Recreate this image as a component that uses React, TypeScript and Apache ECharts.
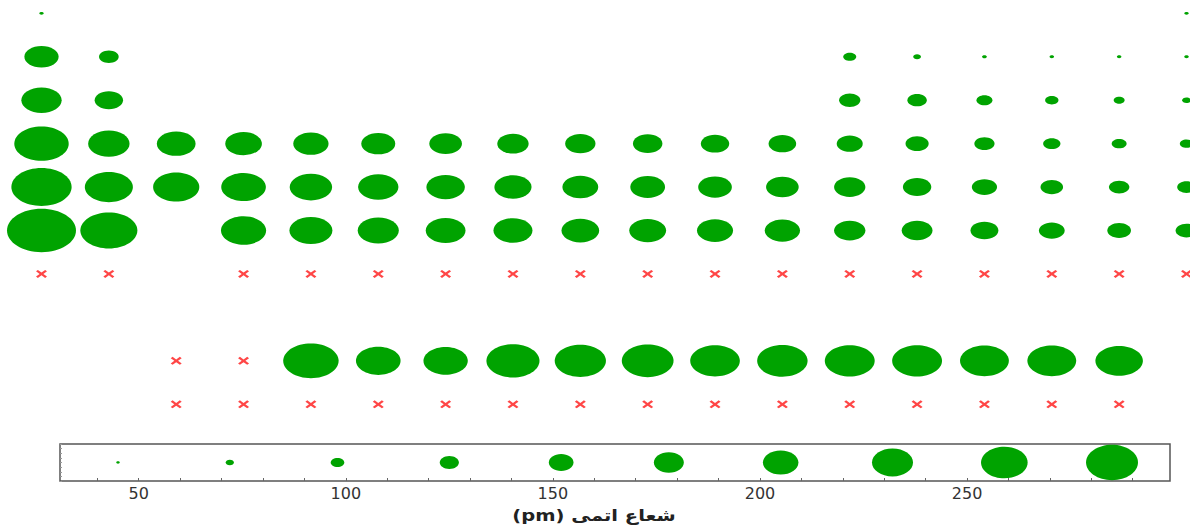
import React, { useEffect, useRef } from "react";
import * as echarts from "echarts";

// Periodic-table columns (groups) and row indexes
const groups = [1, 2, 3, 4, 5, 6, 7, 8, 9, 10, 11, 12, 13, 14, 15, 16, 17, 18];
const periods = [1, 2, 3, 4, 5, 6, 7];
// Atomic radius (pm); null = empty cell, 0 = no data (cross)
const radiiP1 = [53, null, null, null, null, null, null, null, null, null, null, null, null, null, null, null, null, 31];
const radiiP2 = [167, 112, null, null, null, null, null, null, null, null, null, null, 87, 67, 56, 48, 42, 38];
const radiiP3 = [190, 145, null, null, null, null, null, null, null, null, null, null, 118, 111, 98, 88, 79, 71];
const radiiP4 = [243, 194, 184, 176, 171, 166, 161, 156, 152, 149, 145, 142, 136, 125, 114, 103, 94, 88];
const radiiP5 = [265, 219, 212, 206, 198, 190, 183, 178, 173, 169, 165, 161, 156, 145, 133, 123, 115, 108];
const radiiP6 = [298, 253, null, 208, 200, 193, 188, 185, 180, 177, 174, 171, 156, 154, 143, 135, 127, 120];
const radiiP7 = [0, 0, null, 0, 0, 0, 0, 0, 0, 0, 0, 0, 0, 0, 0, 0, 0, 0];

// f-block rows
const fBlockCols = [3, 4, 5, 6, 7, 8, 9, 10, 11, 12, 13, 14, 15, 16, 17];
const lanthanideRow = 9;
const actinideRow = 10;
const lanthanideRadii = [0, 0, 247, 206, 205, 238, 231, 233, 225, 228, 226, 226, 222, 222, 217];
const actinideRadii = [0, 0, 0, 0, 0, 0, 0, 0, 0, 0, 0, 0, 0, 0, 0];

// Size legend
const legendRadii = [45, 72, 98, 125, 152, 178, 205, 232, 259, 285];
const legendTickValues = [40, 50, 60, 70, 80, 90, 100, 110, 120, 130, 140, 150, 160, 170, 180, 190, 200, 210, 220, 230, 240, 250, 260, 270, 280, 290];
const legendLabelValues = [50, 100, 150, 200, 250];
const axisTitle = "(pm) شعاع اتمی";

const ELLIPSE =
  "path://M50,0C77.6,0,100,22.4,100,50C100,77.6,77.6,100,50,100C22.4,100,0,77.6,0,50C0,22.4,22.4,0,50,0Z";
const CROSS =
  "path://M0,1.7L1.7,0L5,3.3L8.3,0L10,1.7L6.7,5L10,8.3L8.3,10L5,6.7L1.7,10L0,8.3L3.3,5Z";

const GREEN = "#00a300";
const RED = "#ff4646";

function buildData() {
  const circles: number[][] = [];
  const crosses: number[][] = [];
  const rows = [radiiP1, radiiP2, radiiP3, radiiP4, radiiP5, radiiP6, radiiP7];
  rows.forEach((row, i) => {
    row.forEach((r, j) => {
      if (r === null) return;
      if (r === 0) crosses.push([groups[j], periods[i]]);
      else circles.push([groups[j], periods[i], r]);
    });
  });
  const fRows: [number, number[]][] = [
    [lanthanideRow, lanthanideRadii],
    [actinideRow, actinideRadii],
  ];
  fRows.forEach(([rowIdx, radii]) => {
    radii.forEach((r, k) => {
      if (r === 0) crosses.push([fBlockCols[k], rowIdx]);
      else circles.push([fBlockCols[k], rowIdx, r]);
    });
  });
  return { circles, crosses };
}

export default function App() {
  const ref = useRef<HTMLDivElement>(null);
  useEffect(() => {
    if (!ref.current) return;
    const chart = echarts.init(ref.current, null, { renderer: "svg" });
    const { circles, crosses } = buildData();
    const option: any = {
      animation: false,
      backgroundColor: "#ffffff",
      grid: [
        { left: 41.5, top: 13.3, width: 1145, height: 391, show: false },
        {
          left: 60,
          top: 444,
          width: 1110,
          height: 37,
          show: true,
          borderColor: "#555",
          borderWidth: 1.5,
          backgroundColor: "transparent",
        },
      ],
      xAxis: [
        { gridIndex: 0, type: "value", min: 1, max: 18, show: false },
        {
          gridIndex: 1,
          type: "value",
          min: 31,
          max: 299,
          axisLine: { show: false },
          splitLine: { show: false },
          axisTick: {
            show: true,
            inside: true,
            length: 3,
            lineStyle: { color: "#666", width: 1 },
            customValues: legendTickValues,
          },
          axisLabel: {
            customValues: legendLabelValues,
            fontSize: 16,
            color: "#333",
            fontFamily: "DejaVu Sans",
            margin: 4,
          },
        },
      ],
      yAxis: [
        { gridIndex: 0, type: "value", min: 1, max: 10, inverse: true, show: false },
        {
          gridIndex: 1,
          type: "value",
          min: 0,
          max: 1,
          interval: 0.125,
          axisLine: { show: false },
          splitLine: { show: false },
          axisLabel: { show: false },
          axisTick: { show: true, inside: true, length: 2, lineStyle: { color: "#999" } },
        },
      ],
      series: [
        {
          type: "scatter",
          xAxisIndex: 0,
          yAxisIndex: 0,
          data: circles,
          symbol: ELLIPSE,
          clip: false,
          symbolSize: (v: number[]) => {
            const w = Math.max(4.5, 0.265 * v[2] - 10);
            return [w, w * 0.63];
          },
          itemStyle: { color: GREEN, opacity: 1 },
        },
        {
          type: "scatter",
          xAxisIndex: 0,
          yAxisIndex: 0,
          data: crosses,
          symbol: CROSS,
          clip: false,
          symbolSize: [11, 8],
          itemStyle: { color: RED, opacity: 1 },
        },
        {
          type: "scatter",
          xAxisIndex: 1,
          yAxisIndex: 1,
          data: legendRadii.map((r) => [r, 0.5]),
          symbol: ELLIPSE,
          clip: false,
          symbolSize: (v: number[]) => {
            const w = Math.max(3.5, 0.205 * v[0] - 6.5);
            return [w, w * 0.68];
          },
          itemStyle: { color: GREEN, opacity: 1 },
        },
      ],
      graphic: [
        {
          type: "text",
          x: 594,
          y: 515,
          scaleX: 1.22,
          style: {
            text: axisTitle,
            fontSize: 16,
            fontWeight: "bold",
            fontFamily: "DejaVu Sans",
            fill: "#222",
            align: "center",
            verticalAlign: "middle",
          },
        },
      ],
    };
    chart.setOption(option);
    return () => chart.dispose();
  }, []);
  return (
    <div
      ref={ref}
      style={{ position: "fixed", left: 0, top: 0, width: 1190, height: 525 }}
    />
  );
}
